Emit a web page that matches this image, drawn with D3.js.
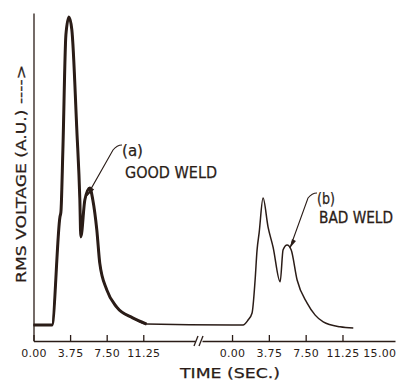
<!DOCTYPE html>
<html>
<head>
<meta charset="utf-8">
<script src="https://cdn.jsdelivr.net/npm/d3@7"></script>
<style>
	html, body { margin: 0; padding: 0; background: #fff; }
	svg { display: block; }
	.axis path, .axis line { stroke: #2a1c17; stroke-width: 1.3; }
	.axis text { font-family: "DejaVu Sans", sans-serif; font-size: 11px; fill: #2a1c17; }
	.lbl { font-family: "DejaVu Sans", sans-serif; fill: #2a1c17; stroke: #2a1c17; stroke-width: 0.25; }
</style>
</head>
<body>
<div id="chart"></div>
<script>
// trace (a) : good weld, time in seconds on the first axis segment
const goodT = [0, 1.89, 2.71, 2.81, 3.01, 3.32, 3.63, 3.93, 4.44, 4.75, 4.85, 5.26, 5.77, 6.08, 6.49, 6.79, 7.51, 8.53, 10.16, 11.59];
const goodV = [0, 0, 35.1, 36.7, 56.8, 94.2, 100, 95.8, 63.3, 40.6, 28.6, 40.6, 44.5, 40.6, 30.8, 20.1, 11.4, 5.8, 2.3, 0.3];

// trace (b) : bad weld, time in seconds on the second axis segment
const badT = [0, 1.12, 1.63, 2.04, 2.35, 2.55, 2.76, 3.16, 3.67, 4.18, 4.90, 5.2, 5.61, 6.02, 6.63, 7.65, 8.47, 9.29, 11.0, 12.35];
const badV = [0, 0, 1.6, 3.9, 14.6, 24.4, 29.9, 41.2, 31.8, 25.3, 14.0, 24.4, 26.0, 24.4, 14.6, 7.1, 3.2, 1.0, -0.6, -1.0];

// tick labels
const ticksLeft = [0, 3.75, 7.5, 11.25];
const ticksRight = [0, 3.75, 7.5, 11.25, 15];

const W = 398, H = 381;
const color = "#2a1c17";

const svg = d3.select("#chart").append("svg")
	.attr("width", W)
	.attr("height", H);

const xL = d3.scaleLinear().domain([0, 16.55]).range([33.5, 195]);
const xR = d3.scaleLinear().domain([-3.06, 16.6]).range([202, 395]);
const y = d3.scaleLinear().domain([-5.2, 101.3]).range([341, 13]);

// y axis, no ticks
svg.append("g")
	.attr("class", "axis")
	.attr("transform", "translate(33.5,0)")
	.call(d3.axisLeft(y).tickValues([]).tickSizeOuter(0));

// x axis, broken in two parts
const fmt = d3.format(".2f");
svg.append("g")
	.attr("class", "axis")
	.attr("transform", "translate(0,341)")
	.call(d3.axisBottom(xL).tickValues(ticksLeft).tickFormat(fmt)
		.tickSizeInner(-6).tickSizeOuter(0).tickPadding(8));

const axR = svg.append("g")
	.attr("class", "axis")
	.attr("transform", "translate(0,341)")
	.call(d3.axisBottom(xR).tickValues(ticksRight).tickFormat(fmt)
		.tickSizeInner(-6).tickSizeOuter(0).tickPadding(8));
axR.selectAll(".tick").filter(d => d === 15).select("line").remove();

svg.selectAll(".axis .tick text").attr("letter-spacing", "0.3px");

// break marks
const bx = xL.range()[1];
[0, 5].forEach(o => {
	svg.append("line")
		.attr("x1", bx - 1 + o).attr("y1", 346)
		.attr("x2", bx + 3 + o).attr("y2", 336)
		.attr("stroke", color).attr("stroke-width", 1.3);
});

// traces
const ptsGood = goodT.map((t, i) => [xL(t), y(goodV[i])]);
const ptsBad = badT.map((t, i) => [xR(t), y(badV[i])]);
const line = d3.line().curve(d3.curveMonotoneX);

svg.append("path")
	.attr("d", line(ptsGood.concat(ptsBad)))
	.attr("fill", "none")
	.attr("stroke", color)
	.attr("stroke-width", 1.5);

svg.append("path")
	.attr("d", line(ptsGood))
	.attr("fill", "none")
	.attr("stroke", color)
	.attr("stroke-width", 3)
	.attr("stroke-linejoin", "round");

// annotations
function leader(tip, top) {
	const [x0, y0] = tip;
	const [x1, y1] = top;
	svg.append("path")
		.attr("d", `M${x0},${y0} L${x1 - 9},${y1 + 4} Q${x1 - 5},${y1 - 1} ${x1},${y1 - 1}`)
		.attr("fill", "none")
		.attr("stroke", color)
		.attr("stroke-width", 1.1);
	const ang = Math.atan2(y1 - y0, x1 - x0);
	const ux = Math.cos(ang), uy = Math.sin(ang);
	const bxp = x0 + ux * 9, byp = y0 + uy * 9;
	svg.append("path")
		.attr("d", `M${x0},${y0} L${bxp - uy * 2.2},${byp + ux * 2.2} L${bxp + uy * 2.2},${byp - ux * 2.2} Z`)
		.attr("fill", color);
}

leader([xL(5.5), y(42)], [122, 146]);
leader([xR(5.9), y(25)], [317, 194]);

function label(txt, x, yy, size, len, sy) {
	svg.append("text")
		.attr("class", "lbl")
		.attr("transform", `translate(${x},${yy}) scale(1,${sy || 1})`)
		.attr("font-size", size)
		.attr("textLength", len)
		.attr("lengthAdjust", "spacingAndGlyphs")
		.text(txt);
}
label("(a)", 122, 156, 15, 21);
label("GOOD WELD", 125, 178, 16, 92);
label("(b)", 317, 204, 15, 18);
label("BAD WELD", 319, 223, 13, 74, 15 / 13);

// axis titles
svg.append("text")
	.attr("class", "lbl")
	.attr("x", 180).attr("y", 378)
	.attr("font-size", 14)
	.attr("textLength", 100)
	.attr("lengthAdjust", "spacingAndGlyphs")
	.text("TIME (SEC.)");

svg.append("text")
	.attr("class", "lbl")
	.attr("transform", "translate(26,283) rotate(-90)")
	.attr("font-size", 14)
	.attr("textLength", 218)
	.attr("lengthAdjust", "spacingAndGlyphs")
	.text("RMS VOLTAGE (A.U.) ---->");
</script>
</body>
</html>
